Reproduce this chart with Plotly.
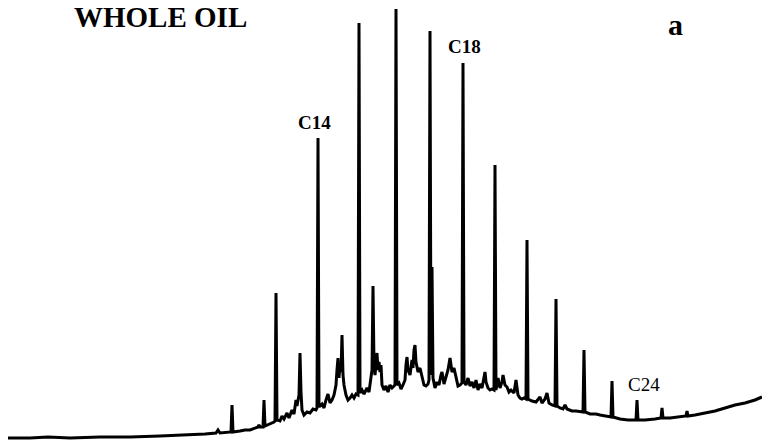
import plotly.graph_objects as go

# Retention position (arbitrary units, left to right) and detector signal
time = [8, 30, 48, 70, 100, 130, 160, 190, 205, 216, 218, 220, 230, 231, 232, 233, 240, 245, 250, 255,
        258, 259, 260, 263, 264, 265, 270, 274, 275, 276, 277, 280, 282, 284, 287, 289, 292, 294, 296, 297,
        299, 300, 301, 302, 304, 307, 310, 313, 316, 317, 318, 319, 322, 324, 326, 328, 330, 332, 334, 336,
        337, 338, 339, 340, 341, 342, 343, 344, 346, 348, 350, 352, 354, 356, 358, 359, 360, 362, 364, 367,
        369, 371, 372, 373, 374, 375, 376, 377, 378, 379, 380, 381, 382, 384, 386, 388, 390, 392, 394, 395,
        396, 397, 399, 401, 403, 405, 406, 407, 408, 410, 412, 413, 414, 415, 416, 418, 420, 422, 424, 426,
        428, 429, 430, 431, 432, 433, 435, 437, 439, 441, 442, 444, 446, 448, 450, 452, 454, 456, 458, 460,
        462, 463, 464, 466, 468, 470, 472, 474, 476, 478, 480, 482, 484, 485, 486, 488, 490, 492, 494, 495,
        496, 498, 500, 502, 503, 505, 507, 509, 511, 514, 516, 518, 520, 522, 524, 526, 527, 528, 532, 536,
        540, 542, 545, 547, 549, 552, 555, 556, 557, 560, 563, 565, 567, 572, 576, 580, 583, 584, 585, 590,
        596, 600, 605, 610, 611, 612, 613, 620, 628, 636, 637, 638, 645, 655, 661, 662, 663, 670, 680, 686,
        687, 688, 695, 705, 715, 725, 735, 745, 755, 762]

depth = [438, 438, 437, 438, 437, 437, 436, 435, 434, 433, 430, 433, 432, 432, 405, 432, 431, 430, 430, 428,
         427, 425, 427, 427, 400, 426, 424, 422, 421, 293, 420, 421, 416, 419, 413, 418, 410, 414, 400, 406,
         395, 353, 392, 410, 415, 412, 413, 409, 410, 408, 138, 407, 404, 408, 400, 394, 403, 400, 395, 385,
         370, 358, 378, 365, 372, 335, 375, 385, 395, 400, 398, 395, 398, 394, 395, 23, 393, 390, 394, 388,
         392, 380, 370, 286, 365, 375, 360, 353, 370, 362, 372, 365, 385, 390, 386, 392, 385, 388, 386, 385,
         9, 385, 383, 389, 385, 380, 365, 357, 370, 375, 360, 368, 350, 345, 362, 372, 368, 378, 385, 386,
         384, 380, 31, 375, 267, 378, 388, 382, 385, 375, 372, 384, 378, 370, 358, 372, 368, 378, 386, 385,
         383, 63, 382, 385, 378, 386, 382, 388, 380, 390, 384, 388, 378, 372, 382, 388, 390, 389, 390, 165,
         390, 378, 388, 382, 375, 385, 387, 392, 390, 393, 380, 395, 398, 399, 398, 399, 240, 399, 401, 402,
         397, 403, 399, 393, 403, 405, 406, 299, 406, 408, 409, 405, 409, 411, 411, 412, 412, 350, 412, 414,
         414, 415, 416, 417, 417, 381, 417, 419, 420, 420, 400, 420, 420, 419, 418, 408, 418, 418, 417, 416,
         411, 416, 415, 413, 411, 408, 405, 403, 400, 397]

signal = [441 - d for d in depth]

fig = go.Figure()
fig.add_trace(go.Scatter(x=time, y=signal, mode="lines",
                         line=dict(color="black", width=3), hoverinfo="skip"))

serif = "Liberation Serif"
fig.add_annotation(x=73, y=441, text="<b>WHOLE OIL</b>", showarrow=False, xanchor="left", yanchor="top",
                   borderpad=0, font=dict(family=serif, size=29, color="black"))
fig.add_annotation(x=675, y=417, text="<b>a</b>", showarrow=False, xanchor="center", yanchor="middle",
                   font=dict(family=serif, size=30, color="black"))
fig.add_annotation(x=314, y=319, text="<b>C14</b>", showarrow=False, xanchor="center", yanchor="middle",
                   font=dict(family=serif, size=19, color="black"))
fig.add_annotation(x=464, y=395, text="<b>C18</b>", showarrow=False, xanchor="center", yanchor="middle",
                   font=dict(family=serif, size=19, color="black"))
fig.add_annotation(x=644, y=57, text="C24", showarrow=False, xanchor="center", yanchor="middle",
                   font=dict(family=serif, size=19, color="black"))

fig.update_layout(width=762, height=441, margin=dict(l=0, r=0, t=0, b=0),
                  paper_bgcolor="white", plot_bgcolor="white", showlegend=False)
fig.update_xaxes(range=[0, 762], visible=False, fixedrange=True)
fig.update_yaxes(range=[0, 441], visible=False, fixedrange=True)

fig.write_html("out.html", config={"displayModeBar": False},
               post_script="document.body.style.margin='0';document.body.style.overflow='hidden';")
